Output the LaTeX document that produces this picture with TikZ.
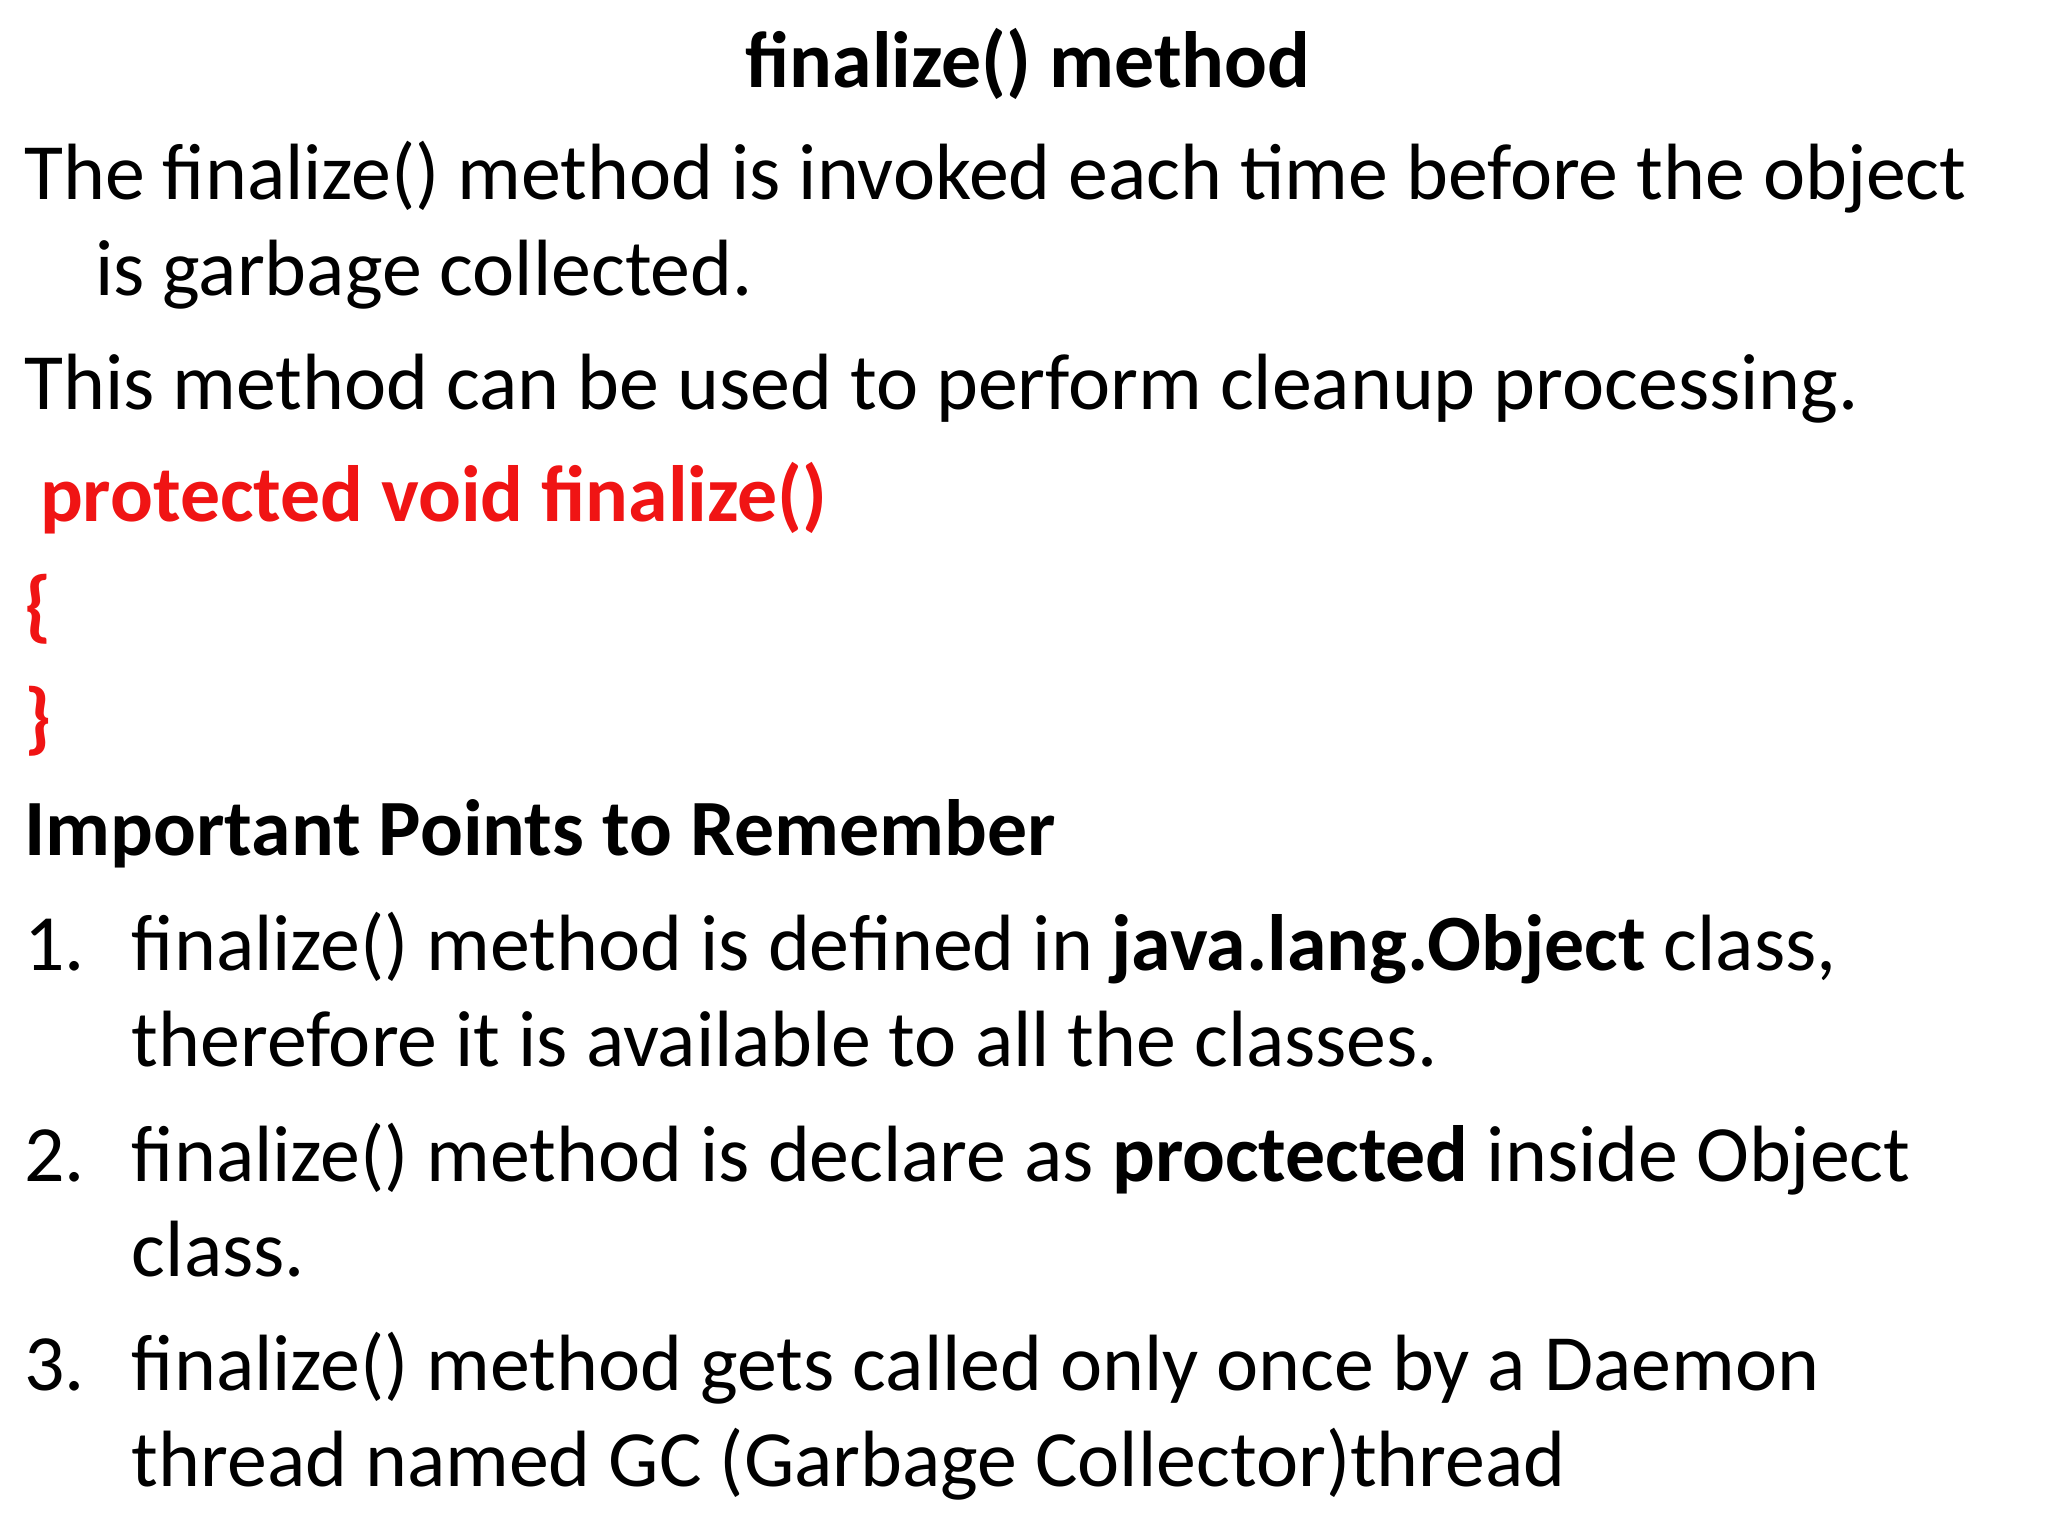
\documentclass[tikz,border=0pt]{standalone}
\usepackage{fontspec}
\setmainfont{Carlito}
\definecolor{codered}{RGB}{240,20,20}
\begin{document}
\begin{tikzpicture}[x=0.013128cm,y=-0.013128cm,
  txt/.style={anchor=base west,inner sep=0pt,font=\fontsize{22.7}{26}\selectfont},
  code/.style={txt,text=codered,font=\fontsize{22.7}{26}\selectfont\bfseries}]
\useasboundingbox (0,0) rectangle (1560,1170);
\node[txt,anchor=base,font=\fontsize{22.7}{26}\selectfont\bfseries] (title) at (783,67) {finalize() method};
\node[txt] (l1) at (18,152) {The finalize() method is invoked each time before the object};
\node[txt] (l2) at (72,225) {is garbage collected.};
\node[txt] (l3) at (18,312) {This method can be used to perform cleanup processing.};
\node[code] (c1) at (30,397) {protected void finalize()};
\node[code] (c2) at (18,482) {\{};
\node[code] (c3) at (18,567) {\}};
\node[txt,font=\fontsize{22.7}{26}\selectfont\bfseries] (imp) at (18,652) {Important Points to Remember};
\node[txt] (n1) at (18,739) {1.};
\node[txt] (p1a) at (100,739) {finalize() method is defined in \textbf{java.lang.Object} class,};
\node[txt] (p1b) at (100,812) {therefore it is available to all the classes.};
\node[txt] (n2) at (18,900) {2.};
\node[txt] (p2a) at (100,900) {finalize() method is declare as \textbf{proctected} inside Object};
\node[txt] (p2b) at (100,972) {class.};
\node[txt] (n3) at (18,1059) {3.};
\node[txt] (p3a) at (100,1059) {finalize() method gets called only once by a Daemon};
\node[txt] (p3b) at (100,1132) {thread named GC (Garbage Collector)thread};
\end{tikzpicture}
\end{document}
